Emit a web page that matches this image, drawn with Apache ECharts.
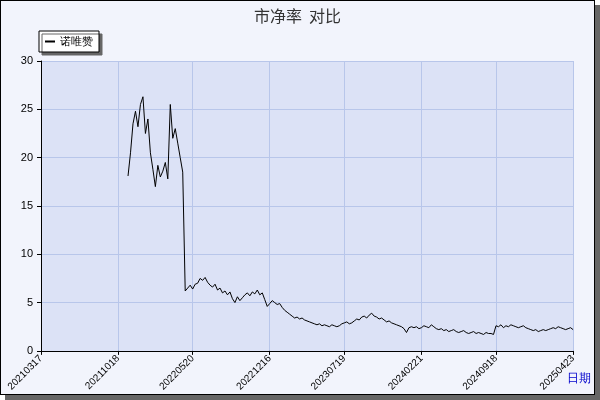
<!DOCTYPE html>
<html><head><meta charset="utf-8">
<script src="https://cdn.jsdelivr.net/npm/echarts@6/dist/echarts.min.js"></script>
<style>
html,body{margin:0;padding:0;background:#fff;}
#wrap{position:absolute;left:0;top:0;width:593px;height:393px;border:1px solid #000;background:#F2F4FC;box-shadow:5px 5px 0 #666;}
#c{width:593px;height:393px;}
</style></head><body>
<div id="wrap"><div id="c"></div></div>
<script>
const tickLabels=['20210317','20211018','20220520','20221216','20230719','20240221','20240918','20250423'];
const tickIndex=[0,31,61,92,122,153,183,214];
const startIndex=35;
const pbValues=[18.1,20.5,23.5,24.8,23.2,25.5,26.3,22.5,24.0,20.5,18.8,17.0,19.2,18.0,18.6,19.5,17.8,25.5,22.0,23.0,21.5,20.0,18.5,
6.2,6.5,6.8,6.4,6.9,7.0,7.5,7.3,7.6,7.1,6.8,
6.6,6.9,6.3,6.5,6.0,6.2,5.8,6.1,5.4,5.0,5.6,5.2,
5.5,5.8,6.0,5.7,6.1,5.9,6.3,5.8,6.0,5.3,4.6,4.9,
5.2,5.0,4.8,4.9,4.5,4.2,4.0,3.8,3.6,3.4,3.5,3.3,3.4,3.2,3.1,
3.0,2.9,2.8,2.7,2.8,2.6,2.7,2.6,2.5,2.7,2.6,2.5,2.6,2.8,2.9,3.0,2.8,2.9,
3.1,3.3,3.2,3.5,3.6,3.4,3.7,3.9,3.6,3.5,3.3,3.4,3.2,3.0,3.1,2.9,2.8,2.7,2.6,2.5,2.3,1.9,2.4,2.5,2.4,
2.5,2.3,2.4,2.6,2.5,2.4,2.7,2.5,2.3,2.2,2.3,2.1,2.2,2.0,2.1,2.2,2.0,1.9,2.0,2.1,1.9,1.8,1.9,2.0,1.8,1.9,1.8,1.7,1.9,1.8,1.8,1.7,
2.6,2.5,2.7,2.4,2.6,2.5,2.7,2.6,2.5,2.4,2.5,2.6,2.4,2.3,2.2,2.1,2.2,2.0,2.1,2.2,2.1,2.2,2.3,2.4,2.3,2.5,2.4,2.3,2.2,2.3,2.4,2.2];
const total=215;
const cats=[];for(let i=0;i<total;i++)cats.push(String(i));
const data=[];for(let i=0;i<total;i++)data.push(i<startIndex?null:pbValues[i-startIndex]);
const ch=echarts.init(document.getElementById('c'));
ch.setOption({
 animation:false,
 title:{text:'市净率  对比',left:'center',top:2,textStyle:{fontSize:16,fontWeight:'normal',color:'#333',fontFamily:'Noto Sans CJK SC'}},
 legend:{left:38,top:30,data:[{name:'诺唯赞',icon:'rect'}],backgroundColor:'#fff',borderColor:'#000',borderWidth:1,padding:[5,6],itemWidth:10,itemHeight:2,
   shadowColor:'#666',shadowOffsetX:3,shadowOffsetY:3,shadowBlur:0,textStyle:{fontSize:11,color:'#000'}},
 grid:{left:40,right:11,top:60,bottom:27,backgroundColor:'#DCE2F6',show:true,borderWidth:0},
 xAxis:{type:'category',data:cats,boundaryGap:false,name:'日期',nameLocation:'end',nameGap:-28,
   nameTextStyle:{color:'#0000CC',fontSize:12,verticalAlign:'top',padding:[22,0,0,0]},
   axisLine:{lineStyle:{color:'#000'}},
   axisTick:{interval:(i)=>tickIndex.includes(i),length:4,lineStyle:{color:'#000'}},
   splitLine:{show:true,interval:(i)=>tickIndex.includes(i),lineStyle:{color:'#B8C6EA'}},
   axisLabel:{interval:(i)=>tickIndex.includes(i),rotate:45,fontSize:10,color:'#000',margin:6,
     formatter:(v,i)=>{const k=tickIndex.indexOf(i);return k>=0?tickLabels[k]:'';}}},
 yAxis:{type:'value',min:0,max:30,interval:5,axisLine:{show:true,lineStyle:{color:'#000'}},axisTick:{show:true,length:4},
   splitLine:{lineStyle:{color:'#B8C6EA'}},axisLabel:{color:'#000',fontSize:11}},
 series:[{name:'诺唯赞',type:'line',data:data,showSymbol:false,connectNulls:false,lineStyle:{color:'#000',width:1},itemStyle:{color:'#000'}}]
});
</script></body></html>
